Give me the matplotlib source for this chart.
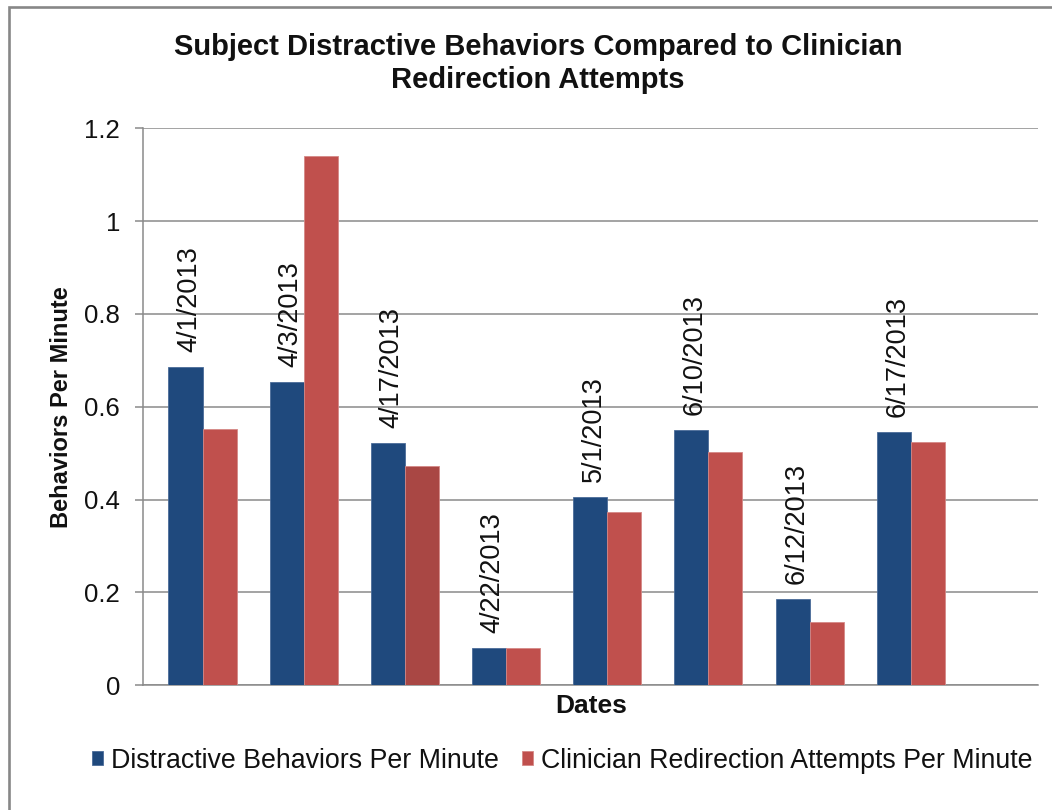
import matplotlib
matplotlib.use("Agg")
import matplotlib.pyplot as plt
import numpy as np
from matplotlib.patches import Patch, Rectangle

# Session dates and per-minute rates
dates = ["4/1/2013", "4/3/2013", "4/17/2013", "4/22/2013",
         "5/1/2013", "6/10/2013", "6/12/2013", "6/17/2013"]
distractive = [0.685, 0.654, 0.522, 0.080, 0.406, 0.549, 0.187, 0.546]
redirection = [0.552, 1.141, 0.472, 0.080, 0.373, 0.503, 0.136, 0.525]
series_names = ["Distractive Behaviors Per Minute",
                "Clinician Redirection Attempts Per Minute"]
y_ticks = [0, 0.2, 0.4, 0.6, 0.8, 1.0, 1.2]

plt.rcParams["font.family"] = ["Liberation Sans", "DejaVu Sans"]

W, H = 1052, 810
fig = plt.figure(figsize=(W / 100, H / 100), dpi=100)
fig.patch.set_facecolor("white")

ax_l, ax_r, ax_b, ax_t = 143.3, 1038.3, 685.3, 128.3
ax = fig.add_axes([ax_l / W, 1 - ax_b / H, (ax_r - ax_l) / W, (ax_b - ax_t) / H])

blue = "#1f497d"
red = "#c0504d"
red_dark = "#a94744"
grid_c = "#8a8a8a"

x = np.arange(len(dates))
bw = 0.336
red_colors = [red] * len(dates)
red_colors[2] = red_dark

ax.bar(x - bw / 2, distractive, width=bw, color=blue,
       edgecolor="#4a6c99", linewidth=0.6, zorder=3)
ax.bar(x + bw / 2, redirection, width=bw, color=red_colors,
       edgecolor="#d58886", linewidth=0.6, zorder=3)

# Category names as rotated labels above the blue bars
for xi, v, name in zip(x, distractive, dates):
    ax.annotate(name, xy=(xi - bw / 2, v), xytext=(2.5, 10.8),
                textcoords="offset points", rotation=90,
                ha="center", va="bottom", fontsize=19.5, color="#111111",
                zorder=4)

ax.set_ylim(0, 1.2)
ax.set_xlim(-0.585, 8.259)
ax.set_yticks(y_ticks)
ax.set_yticklabels([f"{t:g}" for t in y_ticks])
ax.set_xticks([])
ax.yaxis.grid(True, color=grid_c, linewidth=1.1, zorder=0)
ax.set_axisbelow(True)
for s in ["top", "right"]:
    ax.spines[s].set_visible(False)
ax.spines["left"].set_color(grid_c)
ax.spines["left"].set_linewidth(1.1)
ax.spines["bottom"].set_color(grid_c)
ax.spines["bottom"].set_linewidth(1.1)
ax.tick_params(axis="y", direction="out", length=5.8, width=1.1,
               color=grid_c, pad=10.8, labelsize=18.5, labelcolor="#111111")

# Title, axis titles
fig.text(538 / W, 1 - 63.5 / H,
         "Subject Distractive Behaviors Compared to Clinician\nRedirection Attempts",
         ha="center", va="center", fontsize=21, fontweight="bold",
         linespacing=1.25, color="#111111")
fig.text(591 / W, 1 - 706 / H, "Dates", ha="center", va="center",
         fontsize=19, fontweight="bold", color="#111111")
fig.text(62 / W, 1 - 407 / H, "Behaviors Per Minute", ha="center",
         va="center", rotation=90, fontsize=17, fontweight="bold",
         color="#111111")

handles = [Patch(facecolor=blue, edgecolor="#4a6c99", linewidth=0.6),
           Patch(facecolor=red, edgecolor="#d58886", linewidth=0.6)]
fig.legend(handles, series_names, loc="center", ncol=2,
           bbox_to_anchor=(562 / W, 1 - 761 / H), frameon=False,
           fontsize=19.3, handlelength=0.42, handleheight=0.42,
           handletextpad=0.3, columnspacing=0.85, borderpad=0,
           labelcolor="#111111")

# Chart-area border (open at right and bottom)
fig.add_artist(Rectangle((8.5 / W, -0.1), 1.2, 1 - 7.3 / H + 0.1,
                         transform=fig.transFigure, fill=False,
                         edgecolor="#878787", linewidth=1.9))

fig.savefig("out.png", dpi=100)
